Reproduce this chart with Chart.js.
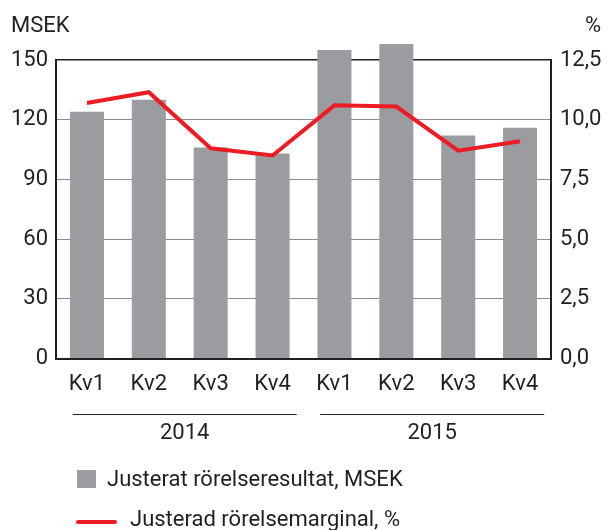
<!DOCTYPE html>
<html>
<head>
<meta charset="utf-8">
<script src="https://cdn.jsdelivr.net/npm/chart.js@4.4.1/dist/chart.umd.min.js"></script>
<style>
  html, body { margin: 0; padding: 0; background: #fff; }
  #wrap { width: 608px; height: 530px; position: relative; }
</style>
</head>
<body>
<div id="wrap"><canvas id="c" width="608" height="530"></canvas></div>
<script>
// ---- Data ----
const categories = ['Kv1', 'Kv2', 'Kv3', 'Kv4', 'Kv1', 'Kv2', 'Kv3', 'Kv4'];
const years = ['2014', '2015'];
const resultatMSEK = [124, 130, 106, 103, 155, 158, 112, 116];
const marginalPct = [10.7, 11.15, 8.8, 8.5, 10.6, 10.55, 8.7, 9.1];
const leftTitle = 'MSEK';
const rightTitle = '%';
const barLabel = 'Justerat rörelseresultat, MSEK';
const lineLabel = 'Justerad rörelsemarginal, %';

const FONT = 'Roboto, "Liberation Sans", sans-serif';
const FS = 22;
const TEXT = '#231f20';
const BAR = '#9b9c9f';
const RED = '#ec1c24';

const extras = {
  id: 'extras',
  afterDraw(chart) {
    const ctx = chart.ctx;
    const x = chart.scales.x;
    const ds = chart.data.datasets;
    const barDs = ds.find(d => d.type === 'bar');
    const lineDs = ds.find(d => d.type === 'line');
    ctx.save();
    ctx.fillStyle = TEXT;
    ctx.font = FS + 'px ' + FONT;
    ctx.textBaseline = 'middle';
    // axis titles
    ctx.textAlign = 'left';
    ctx.fillText(leftTitle, 11, 26);
    ctx.textAlign = 'right';
    ctx.fillText(rightTitle, 601, 26);
    // year groups
    const step = x.getPixelForValue(1) - x.getPixelForValue(0);
    years.forEach((y, g) => {
      const x0 = x.getPixelForValue(g * 4) - step * 0.23;
      const x1 = x.getPixelForValue(g * 4 + 3) + step * 0.39;
      ctx.strokeStyle = TEXT;
      ctx.lineWidth = 1;
      ctx.beginPath();
      ctx.moveTo(x0, 414.5);
      ctx.lineTo(x1, 414.5);
      ctx.stroke();
      ctx.textAlign = 'center';
      ctx.fillText(y, (x0 + x1) / 2, 433);
    });
    // legend
    ctx.textAlign = 'left';
    ctx.fillStyle = barDs.backgroundColor;
    ctx.fillRect(77, 470, 19, 18);
    ctx.fillStyle = TEXT;
    ctx.fillText(barDs.label, 107, 480);
    ctx.strokeStyle = lineDs.borderColor;
    ctx.lineWidth = 4;
    ctx.lineCap = 'round';
    ctx.beginPath();
    ctx.moveTo(78, 522);
    ctx.lineTo(115, 522);
    ctx.stroke();
    ctx.fillText(lineDs.label, 130, 520);
    ctx.restore();
  }
};

new Chart(document.getElementById('c'), {
  data: {
    labels: categories,
    datasets: [
      {
        type: 'line',
        label: lineLabel,
        data: marginalPct,
        yAxisID: 'y2',
        borderColor: RED,
        borderWidth: 4,
        pointRadius: 0,
        tension: 0,
        order: 0
      },
      {
        type: 'bar',
        label: barLabel,
        data: resultatMSEK,
        yAxisID: 'y',
        backgroundColor: BAR,
        borderWidth: 0,
        barPercentage: 0.55,
        categoryPercentage: 1,
        clip: false,
        order: 1
      }
    ]
  },
  plugins: [extras],
  options: {
    responsive: false,
    animation: false,
    layout: { padding: { top: 60, right: 0, left: 0, bottom: 0 } },
    plugins: { legend: { display: false }, tooltip: { enabled: false } },
    scales: {
      x: {
        grid: { display: false, drawTicks: false },
        border: { color: TEXT, width: 2 },
        ticks: { color: TEXT, font: { size: FS, family: FONT }, padding: 13 },
        afterFit(s) { s.height = 530 - 358.5; }
      },
      y: {
        position: 'left',
        min: 0, max: 150,
        ticks: { stepSize: 30, color: TEXT, font: { size: FS, family: FONT }, padding: 8 },
        grid: {
          drawTicks: false,
          color: (c) => c.tick && c.tick.value === 150 ? TEXT : '#8c8c8c',
          lineWidth: (c) => c.tick && c.tick.value === 150 ? 1.5 : 1
        },
        border: { color: TEXT, width: 2 },
        afterFit(s) { s.width = 56; }
      },
      y2: {
        position: 'right',
        min: 0, max: 12.5,
        ticks: {
          stepSize: 2.5, color: TEXT, font: { size: FS, family: FONT }, padding: 9,
          callback: (v) => v.toFixed(1).replace('.', ',')
        },
        grid: { display: false, drawTicks: false },
        border: { color: TEXT, width: 2 },
        afterFit(s) { s.width = 57; }
      }
    }
  }
});
</script>
</body>
</html>
